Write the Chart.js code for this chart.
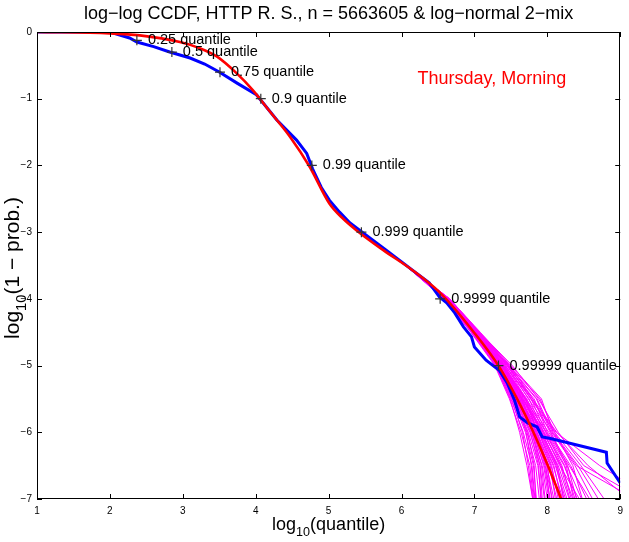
<!DOCTYPE html>
<html>
<head>
<meta charset="utf-8">
<script src="https://cdn.jsdelivr.net/npm/chart.js@4/dist/chart.umd.min.js"></script>
<style>
  html, body { margin: 0; padding: 0; background: #fff; }
  #wrap { width: 629px; height: 542px; position: relative; }
</style>
</head>
<body>
<div id="wrap"><canvas id="ccdf-graph"></canvas></div>
<script>
// axis ticks
let x_ticks = [1, 2, 3, 4, 5, 6, 7, 8, 9];
let y_ticks = [0, -1, -2, -3, -4, -5, -6, -7];

// empirical CCDF (blue)
let empirical_x = [1, 2.0, 2.27, 2.37, 2.6, 2.82, 3.1, 3.3, 3.5, 3.75, 4.01, 4.29, 4.56, 4.7, 4.78, 4.9, 5.01, 5.15, 5.29, 5.47, 5.79, 6.15, 6.38, 6.52, 6.62, 6.73, 6.85, 6.96, 7.0, 7.16, 7.34, 7.45, 7.55, 7.62, 7.73, 7.86, 7.93, 8.03, 8.81, 8.82, 9.0];
let empirical_y = [0, 0, -0.09, -0.15, -0.22, -0.3, -0.39, -0.48, -0.6, -0.77, -0.94, -1.32, -1.62, -1.82, -2.05, -2.33, -2.52, -2.7, -2.86, -3.01, -3.27, -3.57, -3.76, -3.97, -4.06, -4.21, -4.42, -4.57, -4.72, -4.92, -5.07, -5.26, -5.52, -5.77, -5.86, -5.92, -6.07, -6.09, -6.30, -6.46, -6.76];

// log-normal 2-mix fit (red)
let fit_x = [1, 2, 2.41, 2.96, 3.2, 3.47, 3.74, 3.96, 4.2, 4.47, 4.74, 5.01, 5.2, 5.38, 5.75, 6.15, 6.52, 6.97, 7.34, 7.75, 8.0, 8.19];
let fit_y = [0, -0.02, -0.05, -0.15, -0.23, -0.37, -0.62, -0.87, -1.2, -1.57, -2.02, -2.57, -2.8, -2.97, -3.27, -3.57, -3.9, -4.47, -5.02, -5.86, -6.48, -7.0];

// simulated samples from the fit (magenta), x read at these y levels
let sim_levels = [-3.4, -4.0, -4.5, -5.0, -5.5, -6.0, -6.5, -7.0];
let sim_lines = [
  [5.95, 6.58, 6.95, 7.28, 7.48, 7.64, 7.76, 7.81],
  [5.95, 6.59, 6.96, 7.29, 7.50, 7.67, 7.79, 7.83],
  [5.95, 6.59, 6.96, 7.30, 7.52, 7.70, 7.81, 7.85],
  [5.95, 6.60, 6.97, 7.31, 7.53, 7.72, 7.84, 7.89],
  [5.95, 6.60, 6.97, 7.31, 7.54, 7.74, 7.87, 7.92],
  [5.95, 6.60, 6.98, 7.32, 7.55, 7.76, 7.90, 7.96],
  [5.95, 6.61, 6.98, 7.33, 7.56, 7.78, 7.93, 8.00],
  [5.95, 6.61, 6.99, 7.33, 7.57, 7.80, 7.96, 8.04],
  [5.95, 6.61, 6.99, 7.34, 7.58, 7.82, 7.99, 8.09],
  [5.95, 6.62, 7.00, 7.35, 7.59, 7.84, 8.02, 8.13],
  [5.95, 6.62, 7.00, 7.35, 7.60, 7.86, 8.05, 8.17],
  [5.95, 6.62, 7.01, 7.36, 7.61, 7.88, 8.08, 8.21],
  [5.95, 6.63, 7.01, 7.37, 7.62, 7.90, 8.11, 8.25],
  [5.95, 6.63, 7.02, 7.38, 7.64, 7.92, 8.15, 8.30],
  [5.95, 6.63, 7.02, 7.39, 7.65, 7.94, 8.19, 8.35],
  [5.95, 6.64, 7.03, 7.40, 7.67, 7.96, 8.23, 8.41],
  [5.95, 6.64, 7.04, 7.41, 7.69, 7.99, 8.27, 8.47],
  [5.95, 6.65, 7.05, 7.43, 7.71, 8.02, 8.32, 8.54],
  [5.95, 6.65, 7.06, 7.45, 7.74, 8.06, 8.38, 8.62],
  [5.95, 6.66, 7.07, 7.47, 7.77, 8.10, 8.46, 8.78],
  [5.95, 6.66, 7.08, 7.49, 7.80, 8.13, 8.56, 9.12],
  [5.95, 6.65, 7.06, 7.46, 7.78, 8.12, 8.72, 9.45],
  [5.95, 6.60, 6.98, 7.32, 7.56, 7.77, 7.88, 7.91],
  [5.95, 6.61, 6.99, 7.34, 7.58, 7.81, 7.95, 8.02],
  [5.95, 6.62, 7.00, 7.36, 7.60, 7.85, 8.04, 8.11],
  [5.95, 6.63, 7.01, 7.37, 7.63, 7.89, 8.09, 8.19],
  [5.95, 6.62, 7.01, 7.38, 7.66, 7.93, 8.13, 8.27],
  [5.95, 6.64, 7.03, 7.41, 7.70, 7.98, 8.24, 8.38],
  [5.95, 6.61, 6.98, 7.31, 7.54, 7.73, 7.82, 7.84],
  [5.95, 6.63, 7.02, 7.39, 7.66, 7.95, 8.17, 8.44],
  [5.95, 6.62, 7.02, 7.42, 7.78, 7.98, 8.20, 8.33],
  [5.95, 6.63, 7.04, 7.46, 7.85, 8.05, 8.28, 8.40],
  [5.95, 6.64, 7.05, 7.48, 7.90, 8.10, 8.35, 8.48],
  [5.95, 6.61, 6.99, 7.36, 7.70, 7.86, 8.00, 8.06],
  [5.95, 6.60, 6.98, 7.34, 7.62, 7.80, 7.92, 7.97],
  [5.95, 6.62, 7.00, 7.38, 7.72, 7.92, 8.14, 8.22],
  [5.95, 6.63, 7.03, 7.44, 7.82, 8.00, 8.30, 8.58],
  [5.95, 6.65, 7.06, 7.50, 7.92, 8.08, 8.42, 8.70],
  [5.95, 6.61, 6.97, 7.30, 7.51, 7.66, 7.74, 7.80],
  [5.95, 6.60, 6.97, 7.31, 7.55, 7.71, 7.78, 7.82],
  [5.95, 6.62, 7.01, 7.37, 7.65, 7.84, 7.98, 8.03],
  [5.95, 6.63, 7.02, 7.40, 7.68, 7.88, 8.06, 8.15],
  [5.95, 6.64, 7.03, 7.42, 7.75, 7.95, 8.18, 8.31],
  [5.95, 6.61, 6.99, 7.35, 7.60, 7.79, 7.90, 7.93],
  [5.95, 6.62, 7.00, 7.37, 7.64, 7.83, 7.97, 8.07],
  [5.95, 6.63, 7.02, 7.39, 7.70, 7.91, 8.12, 8.23],
  [5.95, 6.64, 7.04, 7.45, 7.80, 8.04, 8.26, 8.36],
  [5.95, 6.65, 7.05, 7.47, 7.86, 8.07, 8.40, 9.20],
  [5.95, 6.66, 7.07, 7.52, 7.88, 8.15, 8.50, 9.30],
  [5.95, 6.60, 6.96, 7.29, 7.49, 7.62, 7.72, 7.80]
];

// quantile markers
let quantile_names = ["0.25", "0.5", "0.75", "0.9", "0.99", "0.999", "0.9999", "0.99999"];
let quantile_x = [2.37, 2.85, 3.51, 4.07, 4.77, 5.45, 6.53, 7.33];
let quantile_y = [-0.125, -0.301, -0.602, -1, -2, -3, -4, -5];

let title_text = "log\u2212log CCDF, HTTP R. S., n = 5663605 & log\u2212normal 2\u2212mix";
let note_text = "Thursday, Morning";

const FONT = "'Liberation Sans', Arial, sans-serif";

function toPoints(xs, ys) {
  return xs.map((x, i) => ({ x: x, y: ys[i] }));
}

let datasets = [];
datasets.push({
  label: "quantiles",
  type: "scatter",
  data: toPoints(quantile_x, quantile_y),
  pointStyle: "cross",
  pointRadius: 5,
  borderColor: "#333",
  borderWidth: 1.2,
  showLine: false,
});
datasets.push({
  label: "fit",
  data: toPoints(fit_x, fit_y),
  borderColor: "#ff0000",
  borderWidth: 2.6,
  pointRadius: 0,
  tension: 0.4,
  cubicInterpolationMode: "monotone",
});
datasets.push({
  label: "empirical",
  data: toPoints(empirical_x, empirical_y),
  borderColor: "#0000ff",
  borderWidth: 3,
  pointRadius: 0,
  tension: 0,
});
sim_lines.forEach((xs) => {
  datasets.push({
    label: "sim",
    data: toPoints(xs, sim_levels),
    borderColor: "#ff00ff",
    borderWidth: 1,
    pointRadius: 0,
    tension: 0,
  });
});

// subscripted text like log_10(...)
function drawSub(ctx, parts, size, x, y, align) {
  let widths = parts.map((p) => {
    ctx.font = (p.sub ? size * 0.7 : size) + "px " + FONT;
    return ctx.measureText(p.t).width;
  });
  let total = widths.reduce((a, b) => a + b, 0);
  let cx = align === "center" ? x - total / 2 : x;
  parts.forEach((p, i) => {
    ctx.font = (p.sub ? size * 0.7 : size) + "px " + FONT;
    ctx.fillText(p.t, cx, p.sub ? y + size * 0.35 : y);
    cx += widths[i];
  });
}

const overlay = {
  id: "overlay",
  afterDraw(chart) {
    const { ctx, chartArea: a, scales } = chart;
    const xs = scales.x, ys = scales.y;
    ctx.save();
    // box
    ctx.strokeStyle = "#000";
    ctx.lineWidth = 1;
    ctx.strokeRect(Math.round(a.left) + 0.5, Math.round(a.top) + 0.5, Math.round(a.right - a.left) - 1, Math.round(a.bottom - a.top) - 1);
    // inward ticks
    ctx.beginPath();
    x_ticks.forEach((v) => {
      let px = Math.round(xs.getPixelForValue(v)) + 0.5;
      ctx.moveTo(px, a.bottom); ctx.lineTo(px, a.bottom - 5);
      ctx.moveTo(px, a.top); ctx.lineTo(px, a.top + 5);
    });
    y_ticks.forEach((v) => {
      let py = Math.round(ys.getPixelForValue(v)) + 0.5;
      ctx.moveTo(a.left, py); ctx.lineTo(a.left + 5, py);
      ctx.moveTo(a.right, py); ctx.lineTo(a.right - 5, py);
    });
    ctx.stroke();

    // quantile labels
    ctx.fillStyle = "#000";
    ctx.font = "14.5px " + FONT;
    ctx.textBaseline = "middle";
    ctx.textAlign = "left";
    quantile_names.forEach((q, i) => {
      let px = xs.getPixelForValue(quantile_x[i]) + 11;
      let py = ys.getPixelForValue(quantile_y[i]);
      ctx.fillText(q + " quantile", px, py);
    });

    // note
    ctx.fillStyle = "#ff0000";
    ctx.font = "18px " + FONT;
    ctx.fillText(note_text, xs.getPixelForValue(6.22), ys.getPixelForValue(-0.7));

    // title
    ctx.fillStyle = "#000";
    ctx.font = "18px " + FONT;
    ctx.textAlign = "center";
    ctx.fillText(title_text, (a.left + a.right) / 2, 14);

    // x axis title
    ctx.textBaseline = "alphabetic";
    ctx.textAlign = "left";
    drawSub(ctx, [{ t: "log" }, { t: "10", sub: true }, { t: "(quantile)" }], 18, (a.left + a.right) / 2, 530, "center");

    // y axis title
    ctx.translate(19, 268);
    ctx.rotate(-Math.PI / 2);
    drawSub(ctx, [{ t: "log" }, { t: "10", sub: true }, { t: "(1 \u2212 prob.)" }], 21, 0, 0, "center");
    ctx.restore();
  },
};

const ctx = document.getElementById("ccdf-graph").getContext("2d");
let graph = new Chart(ctx, {
  type: "line",
  data: { datasets: datasets },
  options: {
    responsive: true,
    maintainAspectRatio: false,
    animation: false,
    layout: { padding: { top: 32, right: 7, left: 0, bottom: 0 } },
    plugins: { legend: { display: false }, tooltip: { enabled: false } },
    scales: {
      x: {
        type: "linear",
        min: 1,
        max: 9,
        afterBuildTicks: (s) => { s.ticks = x_ticks.map((v) => ({ value: v })); },
        afterFit: (s) => { s.height = 43; },
        grid: { display: false, drawTicks: false },
        border: { display: false },
        ticks: { padding: 6, color: "#000", font: { size: 10, family: FONT } },
      },
      y: {
        type: "linear",
        min: -7,
        max: 0,
        afterBuildTicks: (s) => { s.ticks = y_ticks.map((v) => ({ value: v })); },
        afterFit: (s) => { s.width = 37; },
        grid: { display: false, drawTicks: false },
        border: { display: false },
        ticks: {
          padding: 5,
          color: "#000",
          font: { size: 10, family: FONT },
          callback: (v) => String(v).replace("-", "\u2212"),
        },
      },
    },
  },
  plugins: [overlay],
});
</script>
</body>
</html>
